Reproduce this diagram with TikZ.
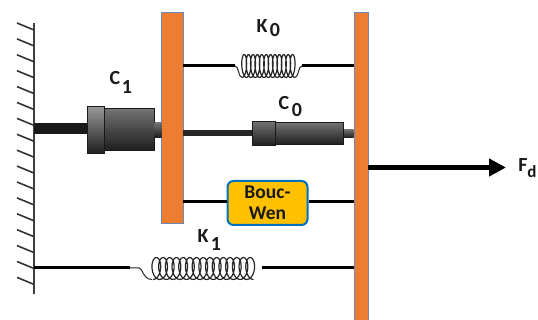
\documentclass[tikz,border=0pt]{standalone}
\usepackage{fontspec}
\setmainfont{Carlito}
\usetikzlibrary{arrows.meta}
\definecolor{plateorange}{HTML}{ED7D31}
\definecolor{plateedge}{HTML}{7088B8}
\definecolor{boxfill}{HTML}{FFC000}
\definecolor{boxedge}{HTML}{0070C0}
\tikzset{
plate/.style={
  draw=plateedge,
  fill=plateorange,
  line width=0.7pt,
  inner sep=0pt,
  anchor=north west
},
rod/.style={line width=3pt,black},
coil/.style={line width=1.2pt,black!85,smooth},
lead/.style={line width=1pt,black!85},
cylinder/.style={
  draw=black!90,
  line width=1pt,
  top color=black!55,
  bottom color=black!88,
  middle color=black!72,
  inner sep=0pt,
  anchor=north west
},
label/.style={font=\bfseries\fontsize{20}{20}\selectfont,inner sep=0pt,black!90},
index/.style={font=\bfseries\fontsize{20}{20}\selectfont,inner sep=0pt,black!90},
hatch/.style={line width=1.6pt,black!80}
}
\begin{document}
\begin{tikzpicture}[x=1pt,y=-1pt]
\useasboundingbox (0,0) rectangle (538,320);
% the wall
\coordinate (walltop) at (34,23);
\coordinate (wallend) at (34,294);
\draw[line width=2.2pt,black!75] (walltop) -- (wallend);
\foreach \y in {0,...,16}
{
  \draw[hatch] (34,30+15.9*\y) -- (17,23+15.9*\y);
}
% the plates
\node[plate,minimum width=22pt,minimum height=211pt] (plateleft) at (161,12) {};
\node[plate,minimum width=14pt,minimum height=308pt] (plateright) at (354,12) {};
% the named ends
\coordinate (kzeroa) at (183,66);
\coordinate (kzerob) at (235,66);
\coordinate (kzeroc) at (302,66);
\coordinate (kzerod) at (354,66);
\coordinate (wallrod) at (34,129);
\coordinate (czeroa) at (183,133);
\coordinate (czerob) at (354,133);
\coordinate (bwa) at (183,201.5);
\coordinate (bwb) at (354,201.5);
\coordinate (konea) at (34,268);
\coordinate (koneb) at (130,268);
\coordinate (konec) at (262,268);
\coordinate (koned) at (354,268);
\coordinate (forcea) at (368,167.5);
\coordinate (forceb) at (506,167.5);
% the bouc-wen box
\node[draw=boxedge,fill=boxfill,line width=2pt,rounded corners=6pt,minimum width=80pt,minimum height=44pt,inner sep=0pt,align=center,font=\bfseries\fontsize{19.5}{21.5}\selectfont,text=black!90] (bouc) at (267.5,203) {Bouc-\\Wen};
% the connectors
\draw[rod] (kzeroa) -- (kzerob);
\draw[rod] (kzeroc) -- (kzerod);
\draw[rod] (bwa) -- (bouc.west |- bwa);
\draw[rod] (bouc.east |- bwb) -- (bwb);
\draw[rod] (konea) -- (koneb);
\draw[rod] (konec) -- (koned);
\draw[rod,line width=5.5pt,black!85] (czeroa) -- (czerob);
\draw[line width=5.5pt,-{Triangle[length=17pt,width=17pt]}] (forcea) -- (forceb);
% the springs
\draw[lead] (kzerob) .. controls (239,66) and (238,77) .. (242,77.5);
\draw[coil] plot[domain=0:4320,samples=260] ({242+\x/360*4.4+3.5*sin(\x)},{66+11.5*cos(\x)});
\draw[lead] (295,77.5) .. controls (299,77) and (298,66) .. (kzeroc);
\draw[lead] (koneb) -- (139,268) .. controls (143,268) and (142,279) .. (152,279.5);
\draw[coil] plot[domain=0:5400,samples=320] ({153+\x/360*6.7+6*sin(\x)},{268.5+11*cos(\x)});
% the dampers
\draw[line width=11pt,black!90] (wallrod) -- (87,129);
\node[cylinder,minimum width=50pt,minimum height=42pt] (cbody) at (104,108) {};
\node[cylinder,minimum width=17pt,minimum height=47pt,top color=black!40] (ccollar) at (87,106) {};
\node[cylinder,minimum width=7pt,minimum height=15pt,draw=none] (cstub) at (154,122) {};
\node[cylinder,minimum width=10pt,minimum height=8pt,draw=none] (dstub) at (343,129) {};
\node[cylinder,minimum width=68pt,minimum height=22pt] (dbody) at (275,122) {};
\node[cylinder,minimum width=23pt,minimum height=24pt] (dcollar) at (252,121) {};
% the labels
\node[label] (cone) at (115,78) {C};
\node[index] (coneidx) at (127,87.5) {1};
\node[label] (kzero) at (262,26) {K};
\node[index] (kzeroidx) at (275,30.5) {0};
\node[label] (czero) at (284,103) {C};
\node[index] (czeroidx) at (297,110) {0};
\node[label] (kone) at (203,236) {K};
\node[index] (koneidx) at (216,244) {1};
\node[label] (force) at (523,165) {F};
\node[index,font=\bfseries\fontsize{17}{17}\selectfont] (forceidx) at (532,171.5) {d};
\end{tikzpicture}
\end{document}
